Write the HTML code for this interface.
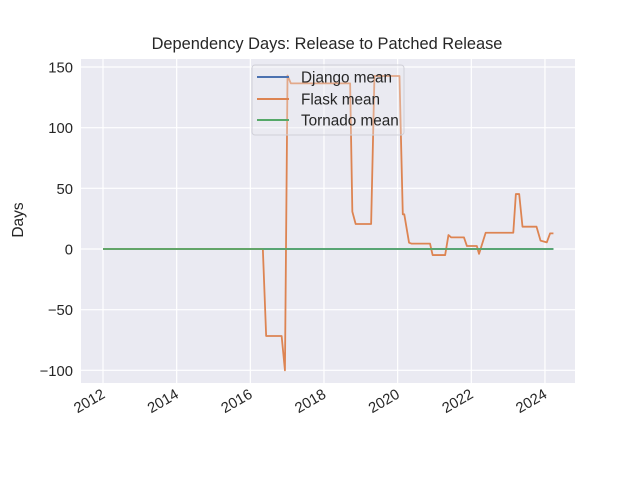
<!DOCTYPE html>
<html><head><meta charset="utf-8"><style>
html,body{margin:0;padding:0;background:#fff;}
svg text{font-family:"Liberation Sans","DejaVu Sans",sans-serif;fill:#262626;}
</style></head><body>
<svg id="chart" width="640" height="480" xmlns="http://www.w3.org/2000/svg">
<rect x="0" y="0" width="640" height="480" fill="#fff"/>
<rect x="81" y="59" width="494" height="324" fill="#eaeaf2"/>
<g id="grid"></g>
<g id="series"></g>
<g id="ticks"></g>
<text x="327" y="49" text-anchor="middle" font-size="16.4">Dependency Days: Release to Patched Release</text>
<text transform="translate(23,220) rotate(-90)" text-anchor="middle" font-size="15.5">Days</text>
<g>
<rect x="252" y="65" width="152" height="70" rx="3" fill="#eaeaf2" fill-opacity="0.35" stroke="#d0d0d8"/>
<g><line x1="257" y1="77" x2="289" y2="77" stroke="#4c72b0" stroke-width="2"/><text x="301" y="82.5" font-size="15.3">Django mean</text></g>
<g><line x1="257" y1="99" x2="289" y2="99" stroke="#dd8452" stroke-width="2"/><text x="301" y="104.5" font-size="15.3">Flask mean</text></g>
<g><line x1="257" y1="120" x2="289" y2="120" stroke="#55a868" stroke-width="2"/><text x="301" y="125.5" font-size="15.3">Tornado mean</text></g>
</g>
</svg>
<script>
const xTicks = [2012, 2014, 2016, 2018, 2020, 2022, 2024];
const yTicks = [-100, -50, 0, 50, 100, 150];
const flaskX = [2012, 2016.34, 2016.43, 2016.85, 2016.94, 2017.01, 2017.10, 2018.71, 2018.77, 2018.86, 2019.28, 2019.37, 2020.05, 2020.14, 2020.18, 2020.31, 2020.38, 2020.88, 2020.95, 2021.29, 2021.38, 2021.45, 2021.80, 2021.88, 2022.15, 2022.21, 2022.39, 2023.14, 2023.21, 2023.30, 2023.39, 2023.77, 2023.88, 2024.05, 2024.14, 2024.23];
const flaskY = [0, 0, -71.7, -71.7, -100, 143, 136.5, 136.5, 30.8, 20.6, 20.6, 142.6, 142.6, 28.6, 28.6, 5.2, 4.4, 4.4, -5, -5, 11.5, 9.6, 9.6, 2.5, 2.5, -4, 13.4, 13.4, 45.3, 45.3, 18.4, 18.4, 6.9, 5.5, 12.9, 12.9];
const tornadoX = [2012, 2024.23];
const tornadoY = [0, 0];
const djangoX = [2012, 2024.23];
const djangoY = [0, 0];

const xs = v => 103 + (v - 2012) * 36.83;
const ys = v => 249 - v * 1.2133;
const NS = "http://www.w3.org/2000/svg";
const grid = document.getElementById('grid');
const ticks = document.getElementById('ticks');
const series = document.getElementById('series');

xTicks.forEach(t => {
  const l = document.createElementNS(NS, 'line');
  l.setAttribute('x1', xs(t)); l.setAttribute('x2', xs(t));
  l.setAttribute('y1', 59); l.setAttribute('y2', 383);
  l.setAttribute('stroke', '#fff'); l.setAttribute('stroke-width', '1.2');
  
  
  grid.appendChild(l);
  const tx = document.createElementNS(NS, 'text');
  tx.setAttribute('transform', `translate(${xs(t) + 3},${397}) rotate(-30)`);
  tx.setAttribute('text-anchor', 'end'); tx.setAttribute('font-size', '14.8');
  tx.textContent = t;
  
  
  ticks.appendChild(tx);
});
yTicks.forEach(t => {
  const l = document.createElementNS(NS, 'line');
  l.setAttribute('x1', 81); l.setAttribute('x2', 575);
  l.setAttribute('y1', ys(t)); l.setAttribute('y2', ys(t));
  l.setAttribute('stroke', '#fff'); l.setAttribute('stroke-width', '1.2');
  
  
  grid.appendChild(l);
  const tx = document.createElementNS(NS, 'text');
  tx.setAttribute('x', 73); tx.setAttribute('y', ys(t) + 5.5);
  tx.setAttribute('text-anchor', 'end'); tx.setAttribute('font-size', '14.8');
  tx.textContent = t < 0 ? '\u2212' + Math.abs(t) : t;
  
  
  ticks.appendChild(tx);
});
function line(X, Y, color, name) {
  const p = document.createElementNS(NS, 'polyline');
  p.setAttribute('points', X.map((x, i) => xs(x) + ',' + ys(Y[i])).join(' '));
  p.setAttribute('fill', 'none'); p.setAttribute('stroke', color);
  p.setAttribute('stroke-width', '1.8'); p.setAttribute('stroke-linejoin', 'round');
  
  
  series.appendChild(p);
}
line(djangoX, djangoY, '#4c72b0', 'django-mean-line');
line(flaskX, flaskY, '#dd8452', 'flask-mean-line');
line(tornadoX, tornadoY, '#55a868', 'tornado-mean-line');
</script>
</body></html>
